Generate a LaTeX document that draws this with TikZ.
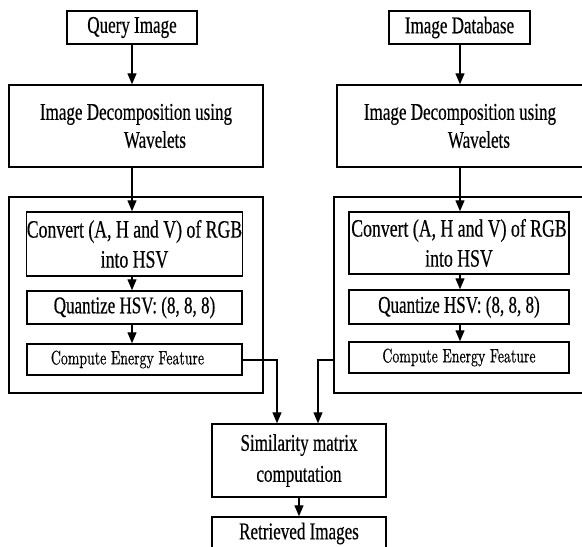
\documentclass[tikz,border=0pt]{standalone}
\usepackage{fontspec}
\usetikzlibrary{arrows.meta}
\newfontfamily\tms[FakeStretch=0.71,FakeBold=0.4]{Liberation Serif}
\newfontfamily\lmr[Extension=.otf,FakeStretch=0.71,FakeBold=0.5]{lmroman10-regular}
\tikzset{
  box/.style={draw=black, line width=1.4pt, rectangle, inner sep=0pt, align=center,
    font=\tms\fontsize{24}{28}\selectfont},
  small/.style={font=\lmr\fontsize{19.5}{22}\selectfont},
  arr/.style={draw=black, line width=1.2pt, -{Triangle[width=9pt,length=11pt]}}
}
\begin{document}
\begin{tikzpicture}[x=1pt,y=-1pt]
\useasboundingbox (0,0) rectangle (582,547);
\clip (0,0) rectangle (582,547);
% top boxes
\node[box, minimum width=130pt, minimum height=33pt] (q) at (132,27.5) {Query Image};
\node[box, minimum width=141pt, minimum height=33pt] (db) at (459.5,27.5) {Image Database};
% decomposition
\node[box, minimum width=254pt, minimum height=82pt, align=left] (d1) at (136,126) {Image Decomposition using\\\hspace*{84pt}Wavelets};
\node[box, minimum width=246pt, minimum height=82pt, align=left] (d2) at (460,126) {Image Decomposition using\\\hspace*{84pt}Wavelets};
% outer boxes
\node[box, minimum width=254pt, minimum height=196pt] (o1) at (136,295) {};
\node[box, minimum width=252pt, minimum height=196pt] (o2) at (460,295) {};
% inner boxes left
\node[box, minimum width=215pt, minimum height=64pt, font=\tms\fontsize{25}{30}\selectfont] (c1) at (134.5,244) {Convert (A, H and V) of RGB\\into HSV};
\node[box, minimum width=215pt, minimum height=33pt] (z1) at (134.5,307.5) {Quantize HSV: (8, 8, 8)};
\node[box, small, minimum width=215pt, minimum height=31pt] (e1) at (134.5,359.5) {Compute Energy Feature\hspace*{14pt}};
% inner boxes right
\node[box, minimum width=220pt, minimum height=62pt, font=\tms\fontsize{25}{30}\selectfont] (c2) at (459,243) {Convert (A, H and V) of RGB\\into HSV};
\node[box, minimum width=220pt, minimum height=34pt] (z2) at (459,307) {Quantize HSV: (8, 8, 8)};
\node[box, small, minimum width=220pt, minimum height=31pt] (e2) at (459,357.5) {Compute Energy Feature};
% bottom
\node[box, minimum width=174pt, minimum height=73pt, font=\tms\fontsize{24}{31}\selectfont] (sim) at (299,460.5) {Similarity matrix\\computation};
\node[box, minimum width=174pt, minimum height=33pt] (ret) at (299,533.5) {Retrieved Images};
% connectors left column
\coordinate (xl) at (132,0);
\coordinate (xr) at (460,0);
\draw[arr] (xl |- q.south) -- (xl |- d1.north);
\draw[arr] (xl |- d1.south) -- (xl |- c1.north);
\draw[arr] (xl |- c1.south) -- (xl |- z1.north);
\draw[arr] (xl |- z1.south) -- (xl |- e1.north);
% connectors right column
\draw[arr] (xr |- db.south) -- (xr |- d2.north);
\draw[arr] (xr |- d2.south) -- (xr |- c2.north);
\draw[arr] (xr |- c2.south) -- (xr |- z2.north);
\draw[arr] (xr |- z2.south) -- (xr |- e2.north);
% to similarity
\coordinate (jl) at (277,360);
\coordinate (jr) at (318,360);
\draw[arr] (e1.east |- jl) -- (jl) -- (jl |- sim.north);
\draw[arr] (o2.west |- jr) -- (jr) -- (jr |- sim.north);
\draw[arr] (sim.south) -- (ret.north);
\end{tikzpicture}
\end{document}
